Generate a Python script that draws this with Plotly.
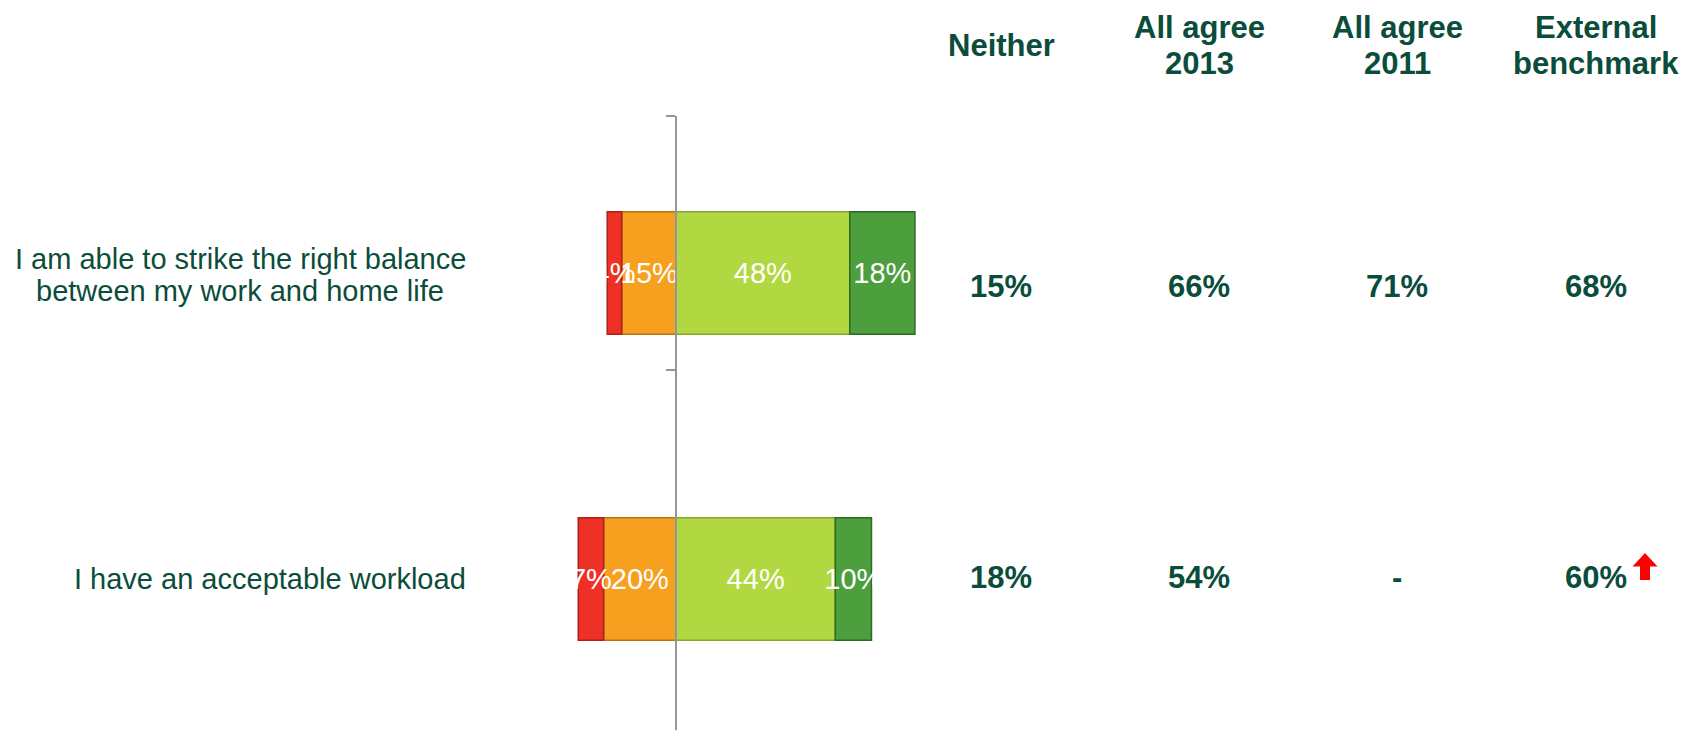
import plotly.graph_objects as go

# Survey statements (one bar per statement)
statements = [
    ["I am able to strike the right balance", "between my work and home life"],
    ["I have an acceptable workload"],
]

# Response shares, in percent
strongly_disagree = [4, 7]
disagree = [15, 20]
agree = [48, 44]
strongly_agree = [18, 10]

# Summary columns on the right
column_headers = [["Neither"], ["All agree", "2013"], ["All agree", "2011"], ["External", "benchmark"]]
neither = ["15%", "18%"]
all_agree_2013 = ["66%", "54%"]
all_agree_2011 = ["71%", "-"]
external_benchmark = ["68%", "60%"]
benchmark_higher = [False, True]

W, H = 1687, 730
TEXT_GREEN = "#0B4D3B"
FONT = "Arial, Liberation Sans, sans-serif"


def px(x):
    return x / W


def py(y):
    return 1 - y / H


rows = list(range(len(statements)))

fig = go.Figure()

segments = [
    # negative side stacks outward from zero in trace order
    ("Disagree", [-v for v in disagree], disagree, "#F7A01F", "#B4731A"),
    ("Strongly disagree", [-v for v in strongly_disagree], strongly_disagree, "#EE3026", "#A8221B"),
    ("Agree", agree, agree, "#B1D840", "#86A52E"),
    ("Strongly agree", strongly_agree, strongly_agree, "#4C9F3C", "#2D6A25"),
]

for name, xs, labels, color, edge in segments:
    fig.add_trace(go.Bar(
        name=name,
        y=rows,
        x=xs,
        orientation="h",
        width=0.4,
        marker=dict(color=color, line=dict(color=edge, width=1.5)),
        text=[f"{v}%" for v in labels],
        textposition="inside",
        insidetextanchor="middle",
        textangle=0,
        constraintext="none",
        textfont=dict(family=FONT, size=29, color="white"),
        cliponaxis=False,
        hoverinfo="skip",
    ))

fig.update_layout(
    width=W,
    height=H,
    barmode="relative",
    showlegend=False,
    plot_bgcolor="white",
    paper_bgcolor="white",
    margin=dict(l=0, r=0, t=0, b=0),
    font=dict(family=FONT, color=TEXT_GREEN),
    xaxis=dict(
        domain=[0, 1],
        range=[-676 / 3.62, (W - 676) / 3.62],
        showgrid=False,
        zeroline=False,
        showticklabels=False,
        fixedrange=True,
    ),
    yaxis=dict(
        domain=[0, py(116)],
        range=[1.4935, -0.5131],
        anchor="free",
        position=px(676),
        showline=True,
        linecolor="#8E9A9A",
        linewidth=1.5,
        ticks="outside",
        ticklen=9,
        tickwidth=1.5,
        tickcolor="#8E9A9A",
        tickmode="array",
        tickvals=[-0.5131, 0.317],
        showticklabels=False,
        showgrid=False,
        zeroline=False,
        fixedrange=True,
    ),
)

annotations = []

# Statement labels: the block sits flush right, its lines centred on each other
label_right_x = 468
label_block_center_x = 240
label_line_y = [[259, 291], [579]]
for lines, ys in zip(statements, label_line_y):
    for line, yy in zip(lines, ys):
        if len(lines) > 1:
            pos = dict(x=px(label_block_center_x), xanchor="center")
        else:
            pos = dict(x=px(label_right_x), xanchor="right")
        annotations.append(dict(
            xref="paper", yref="paper", y=py(yy), **pos,
            text=line, showarrow=False, yanchor="middle",
            font=dict(family=FONT, size=29, color=TEXT_GREEN),
        ))

# Summary column headers and values
column_x = [1001, 1199, 1397, 1596]
header_line_y = {1: [45], 2: [27, 63]}
row_value_y = [286, 577]
columns = [neither, all_agree_2013, all_agree_2011, external_benchmark]

for cx, header, values in zip(column_x, column_headers, columns):
    for line, yy in zip(header, header_line_y[len(header)]):
        annotations.append(dict(
            xref="paper", yref="paper", x=px(cx), y=py(yy),
            text=f"<b>{line}</b>", showarrow=False, xanchor="center", yanchor="middle",
            font=dict(family=FONT, size=31, color=TEXT_GREEN),
        ))
    for val, yy in zip(values, row_value_y):
        annotations.append(dict(
            xref="paper", yref="paper", x=px(cx), y=py(yy),
            text=f"<b>{val}</b>", showarrow=False, xanchor="center", yanchor="middle",
            font=dict(family=FONT, size=31, color=TEXT_GREEN),
        ))

fig.update_layout(annotations=annotations)

# Red up-arrow where the benchmark is higher
shapes = []
for flag, yy in zip(benchmark_higher, row_value_y):
    if not flag:
        continue
    cx, top = 1645, yy - 24
    pts = [
        (cx, top), (cx + 12.5, top + 13.5), (cx + 5, top + 13.5), (cx + 5, top + 27),
        (cx - 5, top + 27), (cx - 5, top + 13.5), (cx - 12.5, top + 13.5),
    ]
    path = "M " + " L ".join(f"{px(x):.5f},{py(y):.5f}" for x, y in pts) + " Z"
    shapes.append(dict(type="path", xref="paper", yref="paper", path=path,
                       fillcolor="#FF0000", line=dict(width=0)))
fig.update_layout(shapes=shapes)

fig.write_html("out.html")
